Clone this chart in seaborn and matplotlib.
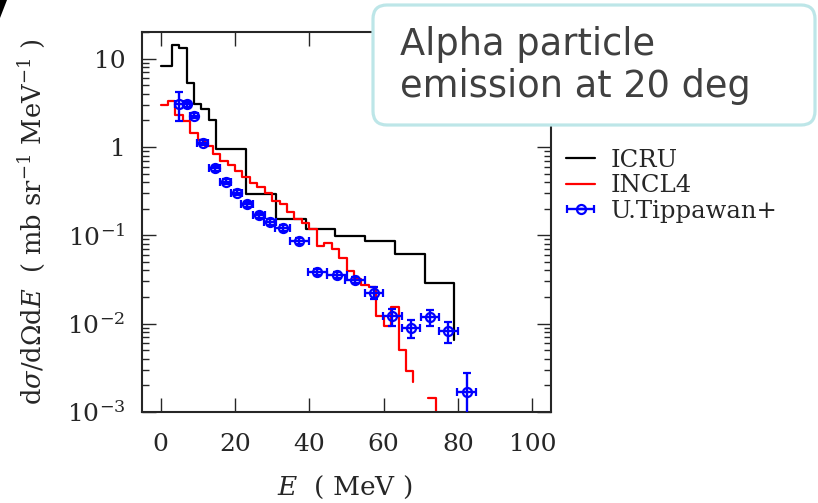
import numpy as np
import pandas as pd
import matplotlib
matplotlib.use("Agg")
import matplotlib.pyplot as plt
import seaborn as sns
from matplotlib.patches import FancyBboxPatch, Polygon
from matplotlib.transforms import IdentityTransform
from matplotlib.legend_handler import HandlerErrorbar
from matplotlib.container import ErrorbarContainer
from matplotlib.lines import Line2D
from matplotlib.ticker import FixedLocator, NullLocator, LogLocator, NullFormatter

# ---------------- data ----------------
# ICRU evaluation (step histogram: left edge, value; last point = final drop)
icru_E = [0, 3, 5, 7, 9, 11, 13, 15, 23, 31, 39, 47, 55, 63, 71, 79]
icru_val = [8.2, 14.2, 13.2, 5.3, 3.06, 2.71, 2.03, 0.944, 0.294, 0.152,
            0.119, 0.098, 0.086, 0.0607, 0.0289, 0.0066]

# INCL4 calculation (2 MeV bins, last point = final drop)
incl4_E = list(range(0, 70, 2))
incl4_val = [2.95, 3.27, 2.3, 1.98, 1.43, 1.2, 1.03, 0.835, 0.70, 0.63,
             0.535, 0.46, 0.387, 0.35, 0.30, 0.244, 0.224, 0.185, 0.151, 0.139,
             0.118, 0.076, 0.081, 0.0697, 0.056, 0.039, 0.0324, 0.0272, 0.026, 0.0121,
             0.0093, 0.0154, 0.00507, 0.00288, 0.0022]
incl4_tail_E = [72, 74]
incl4_tail_val = [0.00143, 0.0004]

# U.Tippawan+ measurement
exp_E = [5.0, 7.0, 9.0, 11.3, 14.6, 17.5, 20.5, 23.3, 26.5, 29.4, 32.8,
         37.3, 42.2, 47.4, 52.3, 57.4, 62.3, 67.4, 72.5, 77.4, 82.3]
exp_val = [3.06, 3.06, 2.25, 1.12, 0.574, 0.405, 0.304, 0.225, 0.168, 0.142, 0.122,
           0.0867, 0.0385, 0.0353, 0.031, 0.0225, 0.0121, 0.0089, 0.0119, 0.0082, 0.00167]
exp_xerr = [1.0, 1.0, 1.0, 1.5, 1.5, 1.5, 1.5, 1.6, 1.6, 1.6, 2.0,
            2.5, 2.6, 2.6, 2.6, 2.5, 2.5, 2.5, 2.5, 2.5, 2.5]
exp_yerr = [1.1, 0.2, 0.15, 0.08, 0.04, 0.028, 0.021, 0.016, 0.012, 0.01, 0.009,
            0.006, 0.003, 0.0028, 0.0025, 0.0034, 0.0027, 0.0021, 0.0025, 0.0022, 0.0011]

ytick_vals = [1e-3, 1e-2, 1e-1, 1, 10]
ytick_labels = [r"$10^{\mathregular{-3}}$", r"$10^{\mathregular{-2}}$",
                r"$10^{\mathregular{-1}}$", "1", "10"]
xtick_vals = [0, 20, 40, 60, 80, 100]

# ---------------- style ----------------
sns.set_style("ticks")
plt.rcParams["font.family"] = ["DejaVu Serif"]
plt.rcParams["mathtext.fontset"] = "dejavuserif"
plt.rcParams["axes.linewidth"] = 1.5
plt.rcParams["xtick.direction"] = "in"
plt.rcParams["ytick.direction"] = "in"
plt.rcParams["xtick.top"] = True
plt.rcParams["ytick.right"] = True
plt.rcParams["xtick.minor.visible"] = False

fig = plt.figure(figsize=(8.18, 5.03), dpi=100)
ax = fig.add_axes([142 / 818, 1 - 412 / 503, 409 / 818, 380 / 503])

icru_df = pd.DataFrame({"E": icru_E, "v": icru_val})
incl_df = pd.DataFrame({"E": incl4_E, "v": incl4_val})
tail_df = pd.DataFrame({"E": incl4_tail_E, "v": incl4_tail_val})

ax.set_yscale("log")
sns.lineplot(data=icru_df, x="E", y="v", ax=ax, color="black", lw=1.6,
             drawstyle="steps-post", estimator=None, sort=False)
sns.lineplot(data=incl_df, x="E", y="v", ax=ax, color="#ff0000", lw=1.6,
             drawstyle="steps-post", estimator=None, sort=False)
sns.lineplot(data=tail_df, x="E", y="v", ax=ax, color="#ff0000", lw=1.6,
             drawstyle="steps-post", estimator=None, sort=False)
eb = ax.errorbar(exp_E, exp_val, xerr=exp_xerr, yerr=exp_yerr, fmt="o",
                 color="#0000ff", mfc="none", mec="#0000ff", ms=6.5, mew=1.6,
                 elinewidth=1.7, capsize=3, capthick=1.7, zorder=5)

ax.set_xlim(-5, 105)
ax.set_ylim(1e-3, 20)
ax.xaxis.set_major_locator(FixedLocator(xtick_vals))
ax.xaxis.set_minor_locator(NullLocator())
ax.yaxis.set_major_locator(FixedLocator(ytick_vals))
ax.set_yticklabels(ytick_labels)
ax.yaxis.set_minor_locator(LogLocator(base=10, subs=np.arange(2, 10)))
ax.yaxis.set_minor_formatter(NullFormatter())
ax.tick_params(axis="both", which="both", direction="in", top=True, right=True,
               bottom=True, left=True, width=1.0)
ax.tick_params(axis="both", which="major", length=10, labelsize=18)
ax.tick_params(axis="y", which="minor", length=5)
ax.tick_params(axis="y", which="major", pad=12)
ax.tick_params(axis="x", which="major", pad=15)
ax.set_xlabel("")
ax.set_ylabel("")

fig.text(32 / 818, 1 - 222 / 503,
         r"d$\sigma$/d$\Omega$d$E$  ( mb sr$^{\mathregular{-1}}$ MeV$^{\mathregular{-1}}$ )",
         rotation=90, ha="center", va="center", fontsize=18.5)
fig.text(345 / 818, 1 - 487 / 503, r"$E$  ( MeV )", ha="center", va="center",
         fontsize=19)

handles = [Line2D([], [], color="black", lw=1.6),
           Line2D([], [], color="#ff0000", lw=1.6), eb]
labels = ["ICRU", "INCL4", "U.Tippawan+"]
fig.legend(handles, labels, loc="upper left",
           bbox_to_anchor=(566 / 818, 1 - 149 / 503), frameon=False,
           fontsize=17.5, handlelength=1.2, handletextpad=0.65,
           labelspacing=0.1, borderpad=0, borderaxespad=0,
           handler_map={ErrorbarContainer: HandlerErrorbar(xerr_size=0.55, yerr_size=0)})

# annotation box
box = FancyBboxPatch((373, 503 - 125), 442, 120,
                     boxstyle="round,pad=0,rounding_size=14",
                     transform=IdentityTransform(), facecolor="white",
                     edgecolor="#bde6e8", linewidth=2.3, zorder=10)
fig.add_artist(box)
fig.text(400 / 818, 1 - 26 / 503, "Alpha particle\nemission at 20 deg",
         ha="left", va="top", fontsize=26.5, color="#404040",
         family="DejaVu Sans", linespacing=1.18, zorder=11)

wedge = Polygon([(0, 503), (7, 503), (0, 485)], closed=True,
                transform=IdentityTransform(), facecolor="black",
                edgecolor="none")
fig.add_artist(wedge)

fig.savefig("out.png", dpi=100)
